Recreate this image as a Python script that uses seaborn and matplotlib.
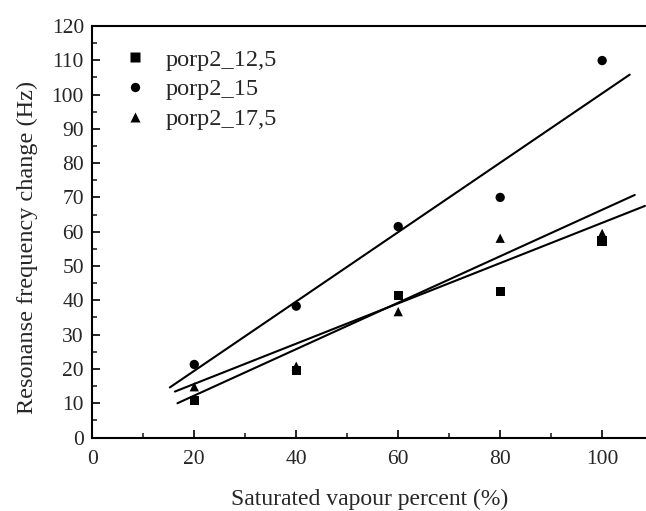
import matplotlib
matplotlib.use('Agg')
import matplotlib.pyplot as plt
import numpy as np
import pandas as pd
import seaborn as sns
from matplotlib.ticker import MultipleLocator

# values
vapour = [20, 40, 60, 80, 100]
porp_12_5 = [10.7, 19.5, 41.5, 42.5, 57.3]
porp_15 = [21.3, 38.3, 61.5, 70.0, 109.9]
porp_17_5 = [14.8, 20.8, 36.7, 58.1, 59.5]
series_names = ['porp2_12,5', 'porp2_15', 'porp2_17,5']

# fitted lines as drawn in the picture: slope, intercept, x from, x to
fit_slope = [0.587, 1.011, 0.677]
fit_intercept = [3.89, -0.77, -1.31]
fit_from = [16.2, 15.2, 16.7]
fit_to = [108.4, 105.4, 106.4]

df = pd.DataFrame({
    'vapour': vapour * 3,
    'freq': porp_12_5 + porp_15 + porp_17_5,
    'series': np.repeat(series_names, len(vapour)),
})

sns.set_style('ticks')
plt.rcParams['font.family'] = ['Liberation Serif', 'DejaVu Serif']
plt.rcParams['xtick.direction'] = 'in'
plt.rcParams['ytick.direction'] = 'in'

fig = plt.figure(figsize=(6.46, 5.11), dpi=100)
ax = fig.add_axes([0.1429, 0.1438, 0.8571, 0.8055])

for s, b, x0, x1 in zip(fit_slope, fit_intercept, fit_from, fit_to):
    xs = np.array([x0, x1])
    ax.plot(xs, s * xs + b, color='black', lw=1.5, zorder=2)

sns.scatterplot(data=df, x='vapour', y='freq', style='series',
                markers={'porp2_12,5': 's', 'porp2_15': 'o', 'porp2_17,5': '^'},
                color='black', s=45, edgecolor='none', ax=ax, zorder=3)

ax.set_xlim(0, 108.6)
ax.set_ylim(0, 120)
ax.xaxis.set_major_locator(MultipleLocator(20))
ax.xaxis.set_minor_locator(MultipleLocator(10))
ax.yaxis.set_major_locator(MultipleLocator(10))
ax.yaxis.set_minor_locator(MultipleLocator(5))
ax.tick_params(which='major', length=6, width=1.2, labelsize=15.5, pad=6, color='black')
ax.tick_params(which='minor', length=3.5, width=1.2)
ax.tick_params(axis='x', which='both', top=False, pad=9)
ax.tick_params(axis='y', which='both', right=False)

for side in ['left', 'bottom', 'top']:
    ax.spines[side].set_linewidth(1.5)
    ax.spines[side].set_color('black')
ax.spines['right'].set_visible(False)

ax.set_xlabel('Saturated vapour percent (%)', fontsize=17, labelpad=14)
ax.set_ylabel('Resonanse frequency change (Hz)', fontsize=17.5)
ax.yaxis.set_label_coords(-0.098, 0.463)

leg = ax.legend(loc='upper left', bbox_to_anchor=(0.016, 0.998), frameon=False,
                fontsize=17.5, handlelength=1.0, handletextpad=0.75,
                labelspacing=0.32, markerscale=1.0)

fig.savefig('out.png', dpi=100)
